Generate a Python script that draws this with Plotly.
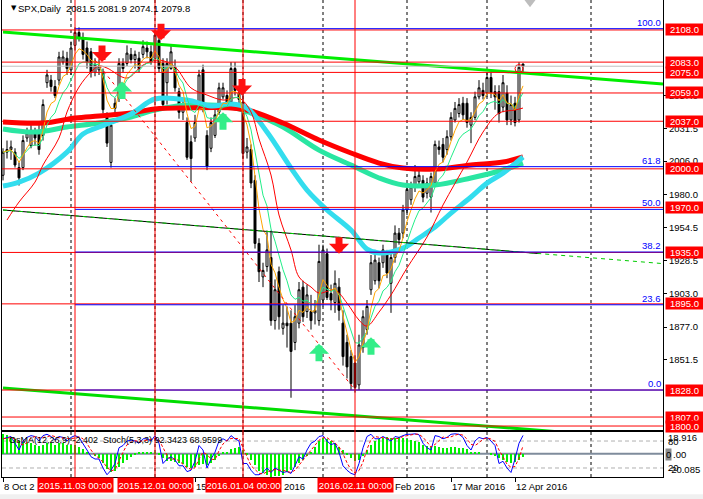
import plotly.graph_objects as go
import pandas as pd

# ---------------- DATA ----------------
open_ = [1995, 2013, 2015, 2013, 2001, 2001, 2024, 2018, 2029, 2029,
         2026, 2067, 2069, 2064, 2069, 2083, 2086, 2077, 2096, 2106,
         2102, 2094, 2091, 2075, 2077, 2075, 2040, 2005, 2051, 2055,
         2082, 2082, 2089, 2085, 2086, 2089, 2094, 2091, 2086, 2100,
         2082, 2067, 2078, 2079, 2060, 2044, 2036, 2021, 2024, 2047,
         2077, 2026, 2016, 2026, 2044, 2056, 2057, 2052, 2078, 2059,
         2052, 2013, 2015, 1991, 1942, 1916, 1924, 1931, 1882, 1920,
         1876, 1880, 1880, 1865, 1880, 1908, 1889, 1889, 1888, 1882,
         1898, 1934, 1903, 1896, 1908, 1880, 1865, 1854, 1849, 1832,
         1861, 1875, 1906, 1913, 1927, 1927, 1933, 1911, 1931, 1950,
         1950, 1968, 1976, 1986, 1990, 1991, 1981, 1978, 1989, 2017,
         2019, 2015, 2025, 2038, 2043, 2051, 2051, 2034, 2040, 2056,
         2061, 2059, 2071, 2060, 2060, 2048, 2059, 2038, 2051, 2038,
         2081.5]
high = [2016, 2022, 2022, 2016, 2005, 2026, 2032, 2034, 2032, 2034,
        2054, 2077, 2073, 2069, 2091, 2092, 2091, 2099, 2110, 2110,
        2106, 2099, 2094, 2086, 2085, 2078, 2044, 2038, 2055, 2086,
        2086, 2096, 2094, 2092, 2091, 2100, 2099, 2096, 2107, 2104,
        2086, 2086, 2096, 2085, 2063, 2054, 2040, 2026, 2042, 2077,
        2081, 2030, 2040, 2046, 2067, 2067, 2061, 2083, 2083, 2063,
        2063, 2024, 2019, 1995, 1946, 1927, 1952, 1952, 1914, 1924,
        1894, 1893, 1890, 1894, 1912, 1913, 1910, 1902, 1898, 1941,
        1941, 1938, 1910, 1921, 1915, 1890, 1871, 1859, 1855, 1871,
        1890, 1898, 1933, 1937, 1931, 1941, 1937, 1935, 1956, 1954,
        1972, 1987, 1990, 2003, 1999, 1995, 1993, 1997, 2022, 2022,
        2024, 2030, 2044, 2052, 2055, 2056, 2055, 2044, 2060, 2069,
        2067, 2075, 2075, 2065, 2065, 2073, 2065, 2057, 2056, 2083,
        2081.9]
low = [1991, 2008, 2007, 2001, 1987, 1999, 2021, 2016, 2018, 2011,
       2022, 2063, 2060, 2055, 2065, 2081, 2073, 2073, 2092, 2099,
       2085, 2078, 2071, 2072, 2073, 2043, 2017, 2001, 2043, 2052,
       2075, 2080, 2082, 2078, 2075, 2086, 2086, 2081, 2085, 2075,
       2046, 2050, 2077, 2060, 2039, 2038, 2007, 1990, 2021, 2046,
       2044, 1999, 2013, 2024, 2042, 2054, 2046, 2050, 2057, 2051,
       2008, 2008, 1985, 1938, 1912, 1908, 1920, 1878, 1875, 1875,
       1871, 1861, 1822, 1859, 1876, 1881, 1884, 1875, 1879, 1878,
       1893, 1898, 1890, 1888, 1882, 1847, 1837, 1828, 1826, 1828,
       1857, 1871, 1902, 1910, 1907, 1923, 1915, 1888, 1927, 1941,
       1946, 1964, 1972, 1982, 1987, 1974, 1977, 1966, 1987, 2011,
       2005, 2011, 2022, 2036, 2040, 2038, 2032, 2020, 2038, 2054,
       2054, 2056, 2055, 2046, 2036, 2044, 2034, 2034, 2033, 2036,
       2074.1]
close = [2013, 2015, 2017, 2003, 1993, 2022, 2028, 2030, 2024, 2015,
         2050, 2073, 2064, 2057, 2087, 2087, 2078, 2094, 2106, 2102,
         2089, 2083, 2075, 2081, 2080, 2046, 2020, 2034, 2047, 2082,
         2078, 2090, 2085, 2089, 2078, 2095, 2091, 2083, 2104, 2078,
         2050, 2082, 2091, 2063, 2044, 2050, 2009, 2008, 2036, 2073,
         2048, 2002, 2036, 2042, 2063, 2063, 2050, 2078, 2061, 2054,
         2012, 2017, 1989, 1942, 1920, 1921, 1937, 1882, 1906, 1885,
         1880, 1878, 1858, 1885, 1906, 1885, 1902, 1882, 1890, 1928,
         1937, 1900, 1898, 1911, 1890, 1854, 1846, 1833, 1830, 1863,
         1885, 1893, 1927, 1929, 1913, 1937, 1919, 1931, 1950, 1945,
         1968, 1984, 1986, 1994, 1995, 1978, 1989, 1994, 2019, 2015,
         2009, 2025, 2040, 2047, 2050, 2042, 2036, 2040, 2056, 2063,
         2057, 2071, 2059, 2056, 2043, 2067, 2038, 2050, 2036, 2079,
         2079.8]
bars = list(range(len(close)))

osma = [17, 16, 15, 13, 11, 10, 9, 9, 8, 7,
        8, 9, 9, 8, 9, 9, 8, 8, 8, 6,
        4, 2, 0, -2, -4, -8, -13, -16, -15, -11,
        -8, -5, -3, -1, 1, 2, 2, 2, 2, -1,
        -4, -6, -6, -7, -8, -9, -11, -12, -11, -10,
        -9, -10, -8, -5, -2, 1, 2, 4, 5, 6,
        3, -1, -5, -10, -15, -17, -18, -20, -19, -19,
        -18, -16, -14, -11, -8, -5, -2, 2, 6, 11,
        14, 13, 11, 9, 6, 3, -1, -4, -6, -5,
        -2, 3, 8, 11, 13, 14, 15, 14, 14, 15,
        14, 13, 12, 11, 10, 8, 7, 6, 7, 6,
        5, 5, 6, 6, 5, 5, 4, 2, 2, 1,
        0, 0, -1, -2, -4, -5, -7, -8, -7, -5,
        -2.402]
stoch_main = [85, 88, 90, 75, 60, 80, 88, 92, 90, 80,
              92, 95, 90, 82, 90, 88, 80, 88, 92, 88,
              75, 60, 45, 40, 40, 20, 5, 15, 30, 65,
              70, 80, 82, 80, 75, 85, 85, 80, 92, 75,
              30, 40, 45, 38, 25, 25, 12, 15, 35, 70,
              60, 20, 40, 55, 80, 85, 80, 92, 85, 80,
              30, 30, 15, 5, 5, 10, 20, 10, 20, 15,
              10, 12, 8, 25, 45, 40, 60, 75, 80, 90,
              92, 80, 72, 75, 55, 25, 15, 8, 5, 30,
              65, 90, 95, 85, 85, 90, 85, 80, 90, 88,
              92, 95, 95, 96, 94, 75, 65, 60, 92, 90,
              85, 88, 95, 96, 95, 88, 70, 60, 80, 88,
              85, 88, 80, 70, 30, 35, 20, 10, 40, 75,
              92.3423]

# long moving averages at sample bars
ma_slow_green_x = [0, 8, 16, 24, 32, 38, 46, 57, 62, 70, 79, 87, 94, 100, 108, 117, 125, 130]
ma_slow_green_y = [2031.0, 2028.6, 2032.5, 2035.6, 2040.3, 2045.7, 2049.6, 2048.1, 2043.4, 2032.5,
                   2014.6, 2003.0, 1992.9, 1987.4, 1987.4, 1992.9, 1999.1, 2004.5]
ma_slow_red_x = [0, 10, 18, 24, 32, 38, 46, 57, 62, 70, 79, 87, 94, 100, 108, 117, 125, 130]
ma_slow_red_y = [2036.4, 2035.6, 2039.5, 2041.1, 2043.4, 2046.5, 2047.3, 2047.3, 2045.0, 2035.6,
                 2022.4, 2012.3, 2004.5, 2000.6, 1999.8, 2003.0, 2005.3, 2009.2]
ma_cyan_x = [0, 4, 9, 16, 20, 24, 32, 38, 46, 52, 57, 61, 66, 72, 76, 81, 87, 91, 94, 100,
             104, 108, 112, 117, 121, 125, 130]
ma_cyan_y = [1986.6, 1989.7, 1996.7, 2013.0, 2027.1, 2032.5, 2042.6, 2054.3, 2053.5, 2048.9,
             2050.4, 2047.3, 2028.6, 2000.6, 1983.5, 1968.0, 1952.4, 1937.6, 1934.5, 1938.4,
             1946.2, 1954.7, 1965.6, 1978.1, 1988.9, 1996.7, 2009.2]
ma_thin_red_x = [1, 4, 8, 10, 14, 16, 19, 22, 24, 26, 31, 35, 39, 43, 47, 51, 55, 59, 62, 64,
                 67, 69, 72, 74, 77, 79, 83, 86, 89, 91, 94, 97, 101, 106, 110, 116, 120, 124, 128, 130]
ma_thin_red_y = [1960.2, 1974.2, 1989.7, 2003.0, 2024.0, 2044.2, 2063.6, 2075.3, 2080.0, 2078.4,
                 2070.6, 2080.7, 2084.6, 2079.2, 2062.9, 2057.4, 2053.5, 2055.1, 2044.2, 2023.2,
                 1995.2, 1964.1, 1936.9, 1915.9, 1908.1, 1903.4, 1905.7, 1895.6, 1882.4, 1877.7,
                 1888.6, 1901.9, 1922.9, 1947.0, 1971.9, 2005.3, 2028.6, 2043.4, 2045.7, 2047.3]

# horizontal levels
red_levels = [2108.0, 2083.0, 2075.0, 2059.0, 2037.0, 2000.0, 1970.0, 1935.0, 1895.0, 1828.0, 1807.0, 1800.0]
fib_levels = [2109.0, 2001.7, 1968.5, 1935.3, 1894.3, 1828.0]
fib_labels = ["100.0", "61.8", "50.0", "38.2", "23.6", "0.0"]
fib_start = 18
bid_price = 2079.8

# trend lines (bar index, price)
trend_top_x, trend_top_y = [0, 165], [2106.4, 2066.0]
trend_mid_x, trend_mid_y = [0, 165], [1968.0, 1926.3]
trend_mid_solid_x, trend_mid_solid_y = [0, 134], [1968.0, 1934.1]
trend_low_x, trend_low_y = [0, 165], [1829.5, 1789.1]
fib_diag_x, fib_diag_y = [23, 88], [2084.6, 1828.0]

# signal arrows
red_arrow_x = [24.75, 39.5, 59.75, 84]
red_arrow_y = [2083, 2100, 2057, 1934]
green_arrow_x = [29.75, 55, 79, 92]
green_arrow_y = [2068, 2044, 1864, 1869]

# axes
price_ticks = [2057.0, 2031.5, 2006.0, 1980.0, 1954.5, 1928.5, 1903.0, 1877.0, 1851.5]
date_tick_idx = [0, 32, 48, 64, 80, 96, 112, 128]
# visible parts of the time labels (the rest is hidden behind the red line labels)
date_label_idx = [0, 48, 64, 96, 112, 128]
date_label_shift = [0, 0, 24, 7, 0, 0]
date_label_text = ["8 Oct 2", "15", "2016", "Feb 2016", "17 Mar 2016", "12 Apr 2016"]
vline_idx = [18, 38, 60, 88]
vline_text = ["2015.11.03 00:00", "2015.12.01 00:00", "2016.01.04 00:00", "2016.02.11 00:00"]
month_grid_idx = [17, 38, 60, 80, 101, 121, 147]

# ---------------- DERIVED INDICATORS ----------------
cs = pd.Series(close)
ema_fast = cs.ewm(span=5, adjust=False).mean()
ema_mid = cs.ewm(span=9, adjust=False).mean()
stoch_signal = pd.Series(stoch_main).rolling(3, min_periods=1).mean()

FONT = "Liberation Sans"
XR = [-0.25, 165]

fig = go.Figure()

fig.add_trace(go.Candlestick(
    x=bars, open=open_, high=high, low=low, close=close,
    increasing=dict(fillcolor="white", line=dict(color="black", width=1)),
    decreasing=dict(fillcolor="black", line=dict(color="black", width=1)),
    xaxis="x", yaxis="y", hoverinfo="skip"))

def line(x, y, color, width, dash="solid", shape="linear", xa="x", ya="y"):
    fig.add_trace(go.Scatter(x=x, y=y, mode="lines", xaxis=xa, yaxis=ya,
                             line=dict(color=color, width=width, dash=dash, shape=shape),
                             hoverinfo="skip"))

line(ma_slow_green_x, ma_slow_green_y, "#2AE6A2", 5, shape="spline")
line(ma_slow_red_x, ma_slow_red_y, "#FF0000", 5, shape="spline")
line(ma_cyan_x, ma_cyan_y, "#33DDEE", 5, shape="spline")
line(ma_thin_red_x, ma_thin_red_y, "#FF0000", 1, shape="spline")
line(bars, ema_mid, "#22EE88", 1)
line(bars, ema_fast, "#FFA500", 1)

line(trend_top_x, trend_top_y, "#00EE00", 3)
line(trend_mid_solid_x, trend_mid_solid_y, "black", 1)
line(trend_mid_x, trend_mid_y, "#00CC00", 1, dash="4px,4px")
line(trend_low_x, trend_low_y, "#00DD00", 3)
line(fib_diag_x, fib_diag_y, "#FF0000", 1, dash="3px,4px")

fig.add_trace(go.Scatter(x=[129], y=[2078], mode="markers", xaxis="x", yaxis="y",
                         marker=dict(symbol="circle-open", size=8, color="#FF0000",
                                     line=dict(width=1)), hoverinfo="skip"))
fig.add_trace(go.Scatter(x=[131.75], y=[2130.0], mode="markers", xaxis="x", yaxis="y",
                         marker=dict(symbol="triangle-down", size=11, color="#BDBDBD"),
                         cliponaxis=False, hoverinfo="skip"))

# indicator panel
fig.add_trace(go.Bar(x=bars, y=osma, xaxis="x2", yaxis="y2", marker=dict(color="#00F000", line=dict(width=0)),
                     width=0.72, hoverinfo="skip"))
line(bars, stoch_main, "#0000FF", 1, xa="x2", ya="y3")
line(bars, stoch_signal, "#FF0000", 1, dash="3px,2px", xa="x2", ya="y3")

shapes = []
for gx in month_grid_idx:
    shapes.append(dict(type="line", xref="x", yref="paper", x0=gx, x1=gx, y0=0, y1=1,
                       line=dict(color="black", width=1, dash="3px,3px"), layer="below"))
shapes.append(dict(type="line", xref="paper", yref="y", x0=0, x1=1, y0=bid_price, y1=bid_price,
                   line=dict(color="#C0C0C0", width=1), layer="above"))
for lv in red_levels:
    shapes.append(dict(type="line", xref="paper", yref="y", x0=0, x1=1, y0=lv, y1=lv,
                       line=dict(color="#FF0000", width=1), layer="above"))
for lv in fib_levels:
    shapes.append(dict(type="line", xref="x", yref="y", x0=fib_start, x1=XR[1], y0=lv, y1=lv,
                       line=dict(color="#0000FF", width=1), layer="above"))
for vx in vline_idx:
    shapes.append(dict(type="line", xref="x", yref="paper", x0=vx, x1=vx, y0=0, y1=1,
                       line=dict(color="#FF0000", width=1), layer="above"))
for lv in [80, 20]:
    shapes.append(dict(type="line", xref="paper", yref="y3", x0=0, x1=1, y0=lv, y1=lv,
                       line=dict(color="#B0B0B0", width=1, dash="4px,3px"), layer="below"))
shapes.append(dict(type="line", xref="paper", yref="y2", x0=0, x1=1, y0=0, y1=0,
                   line=dict(color="#7F8C9C", width=2), layer="below"))
shapes.append(dict(type="rect", xref="paper", yref="paper", x0=-0.01, x1=1.07,
                   y0=-0.047, y1=-0.036, fillcolor="#F0F0F0", line=dict(width=0)))

ann = []
ann.append(dict(xref="paper", yref="paper", x=0, y=1, xshift=7, yshift=-8, xanchor="left",
                yanchor="middle", text="▼", showarrow=False, font=dict(family="DejaVu Sans", size=7, color="black")))
ann.append(dict(xref="paper", yref="paper", x=0, y=1, xshift=14, yshift=-8, xanchor="left",
                yanchor="middle", text="SPX,Daily  2081.5 2081.9 2074.1 2079.8", showarrow=False,
                font=dict(family=FONT, size=9.5, color="black")))
ann.append(dict(xref="paper", yref="paper", x=0, y=(477 - 440) / 477, xshift=5, xanchor="left",
                yanchor="middle", text="OsMA(12,26,9) -2.402  Stoch(5,3,3) 92.3423 68.9599",
                showarrow=False, font=dict(family=FONT, size=9, color="black")))
for txt, py in [("18.916", 437), ("80", 441), ("20", 467), ("-20.085", 469)]:
    ann.append(dict(xref="paper", yref="paper", x=1, y=(477 - py) / 477, xshift=3, xanchor="left",
                    yanchor="middle", text=txt, showarrow=False,
                    font=dict(family=FONT, size=9.5, color="black")))
ann.append(dict(xref="paper", yref="paper", x=1, y=(477 - 454) / 477, xshift=2, xanchor="left",
                yanchor="middle", text="0", showarrow=False, bgcolor="#8C8C8C", borderpad=0,
                font=dict(family=FONT, size=9.5, color="black")))
ann.append(dict(xref="paper", yref="paper", x=1, y=(477 - 454) / 477, xshift=8, xanchor="left",
                yanchor="middle", text=".00", showarrow=False,
                font=dict(family=FONT, size=9.5, color="black")))
for lv, t in zip(fib_levels, fib_labels):
    ann.append(dict(xref="paper", yref="y", x=1, y=lv, xshift=-1, xanchor="right", yanchor="bottom",
                    text=t, showarrow=False, borderpad=0, font=dict(family=FONT, size=9.5, color="#0000FF")))
for lv in red_levels:
    ann.append(dict(xref="paper", yref="y", x=1, y=lv, xshift=2, xanchor="left", yanchor="middle",
                    text=f"{lv:.1f}", showarrow=False, bgcolor="#FF0000", borderpad=0,
                    width=37, height=11, align="center",
                    font=dict(family=FONT, size=9.5, color="white")))
for ix, sh, t in zip(date_label_idx, date_label_shift, date_label_text):
    ann.append(dict(xref="x2", yref="paper", x=ix, y=0, xshift=sh, yshift=-9, xanchor="left", yanchor="middle",
                    text=t, showarrow=False, borderpad=0, font=dict(family=FONT, size=9.5, color="black")))
for ix, t in zip(vline_idx, vline_text):
    ann.append(dict(xref="x2", yref="paper", x=ix, y=0, yshift=-8, xanchor="center", yanchor="middle",
                    text=t, showarrow=False, bgcolor="#FF0000", borderpad=0, width=75, height=14,
                    font=dict(family=FONT, size=9.5, color="white")))
for ax_, ay_ in zip(red_arrow_x, red_arrow_y):
    ann.append(dict(xref="x", yref="y", x=ax_, y=ay_, ax=0, ay=-18, text="", showarrow=True,
                    arrowhead=1, arrowsize=0.48, arrowwidth=7, arrowcolor="#FF1010", standoff=0))
for ax_, ay_ in zip(green_arrow_x, green_arrow_y):
    ann.append(dict(xref="x", yref="y", x=ax_, y=ay_, ax=0, ay=19, text="", showarrow=True,
                    arrowhead=1, arrowsize=0.48, arrowwidth=7, arrowcolor="#33EE88", standoff=0))

fig.update_layout(
    width=703, height=499, margin=dict(l=2, r=40, t=0, b=22),
    paper_bgcolor="white", plot_bgcolor="white", showlegend=False, hovermode=False,
    bargap=0,
    xaxis=dict(domain=[0, 1], range=XR, anchor="y", showticklabels=False, ticks="",
               showgrid=False, zeroline=False, showline=True, linecolor="black", linewidth=1,
               rangeslider=dict(visible=False)),
    yaxis=dict(domain=[0.0985, 1], range=[1796.9, 2131.3], side="right", showline=True, mirror=True,
               linecolor="black", linewidth=1, ticks="outside", ticklen=3, tickcolor="black",
               tickvals=price_ticks, ticktext=[f"{v:.1f}" for v in price_ticks],
               tickfont=dict(family=FONT, size=9.5, color="black"), showgrid=False, zeroline=False),
    xaxis2=dict(domain=[0, 1], range=XR, anchor="y2", matches="x", showline=True, mirror=True,
                linecolor="black", linewidth=1, ticks="outside", ticklen=4, tickcolor="black",
                tickvals=date_tick_idx, showticklabels=False, showgrid=False, zeroline=False),
    yaxis2=dict(domain=[0, 0.0943], range=[-20.085, 18.916], anchor="x2", side="right",
                showline=True, mirror=True, linecolor="black", linewidth=1, showticklabels=False,
                ticks="", showgrid=False, zeroline=False),
    yaxis3=dict(range=[0, 100], overlaying="y2", anchor="x2", side="right", showticklabels=False,
                ticks="", showgrid=False, zeroline=False, showline=False),
    shapes=shapes, annotations=ann,
)

fig.write_html("out.html", config={"displayModeBar": False},
               post_script="document.body.style.margin='0';document.body.style.padding='0';")
